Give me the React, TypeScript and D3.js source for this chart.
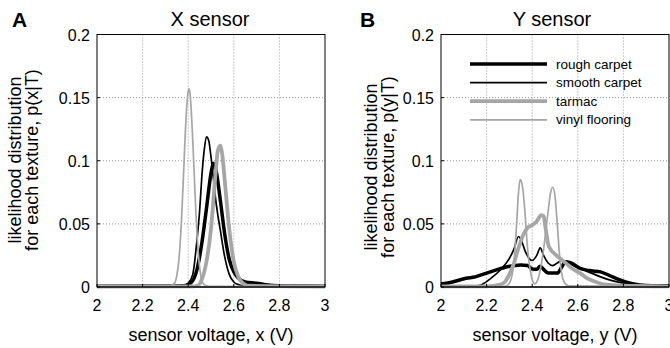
import React from 'react';
import * as d3 from 'd3';

type Pt = [number, number];

const xTicks = [2, 2.2, 2.4, 2.6, 2.8, 3];
const xTickLabels = ['2', '2.2', '2.4', '2.6', '2.8', '3'];
const yTicks = [0, 0.05, 0.1, 0.15, 0.2];
const yTickLabels = ['0', '0.05', '0.1', '0.15', '0.2'];
const textures = ['rough carpet', 'smooth carpet', 'tarmac', 'vinyl flooring'];

// X sensor, likelihood p(x|T)
const xRoughCarpet: Pt[] = [
  [2.0, 0.0005], [2.3, 0.0008], [2.38, 0.001], [2.4, 0.002], [2.42, 0.005], [2.44, 0.015],
  [2.46, 0.035], [2.48, 0.062], [2.5, 0.09], [2.51, 0.098], [2.52, 0.094], [2.54, 0.07],
  [2.56, 0.042], [2.58, 0.022], [2.6, 0.012], [2.62, 0.007], [2.65, 0.004], [2.7, 0.003],
  [2.75, 0.0015], [2.8, 0.001], [2.9, 0.0008], [3.0, 0.0005],
];
const xSmoothCarpet: Pt[] = [
  [2.0, 0.0004], [2.36, 0.0005], [2.38, 0.001], [2.4, 0.003], [2.42, 0.01], [2.44, 0.04],
  [2.45, 0.06], [2.46, 0.088], [2.47, 0.108], [2.48, 0.119], [2.49, 0.116], [2.5, 0.103],
  [2.51, 0.087], [2.52, 0.07], [2.53, 0.057], [2.54, 0.046], [2.56, 0.024], [2.58, 0.01],
  [2.6, 0.004], [2.62, 0.002], [2.65, 0.001], [3.0, 0.0004],
];
const xTarmac: Pt[] = [
  [2.0, 0.0004], [2.42, 0.0005], [2.44, 0.001], [2.46, 0.006], [2.48, 0.02], [2.5, 0.046],
  [2.52, 0.09], [2.53, 0.108], [2.54, 0.112], [2.55, 0.104], [2.56, 0.085], [2.58, 0.046],
  [2.6, 0.02], [2.62, 0.008], [2.64, 0.003], [2.66, 0.001], [3.0, 0.0004],
];
const xVinylFlooring: Pt[] = [
  [2.0, 0.0004], [2.3, 0.0005], [2.32, 0.001], [2.34, 0.003], [2.35, 0.009], [2.36, 0.023],
  [2.37, 0.051], [2.38, 0.091], [2.39, 0.132], [2.4, 0.155], [2.405, 0.157], [2.41, 0.149],
  [2.42, 0.116], [2.43, 0.074], [2.44, 0.038], [2.45, 0.016], [2.46, 0.005], [2.47, 0.002],
  [2.48, 0.001], [2.5, 0.0005], [3.0, 0.0004],
];

// Y sensor, likelihood p(y|T)
const yRoughCarpet: Pt[] = [
  [2.0, 0.0024], [2.05, 0.004], [2.11, 0.0069], [2.15, 0.008], [2.2, 0.011], [2.25, 0.014],
  [2.29, 0.016], [2.35, 0.0175], [2.38, 0.017], [2.4, 0.0143], [2.42, 0.014], [2.435, 0.0165],
  [2.45, 0.014], [2.47, 0.011], [2.51, 0.011], [2.53, 0.016], [2.545, 0.02], [2.57, 0.019],
  [2.61, 0.0148], [2.65, 0.013], [2.7, 0.012], [2.74, 0.009], [2.785, 0.0056], [2.83, 0.003],
  [2.87, 0.0016], [2.93, 0.001], [3.0, 0.001],
];
const ySmoothCarpet: Pt[] = [
  [2.0, 0.0005], [2.15, 0.0005], [2.18, 0.002], [2.22, 0.007], [2.26, 0.0135], [2.3, 0.0227],
  [2.32, 0.03], [2.34, 0.04], [2.35, 0.038], [2.37, 0.028], [2.4, 0.021], [2.42, 0.025],
  [2.435, 0.031], [2.45, 0.025], [2.47, 0.019], [2.49, 0.017], [2.51, 0.019], [2.53, 0.021],
  [2.55, 0.02], [2.58, 0.017], [2.62, 0.014], [2.66, 0.011], [2.7, 0.008], [2.75, 0.005],
  [2.8, 0.003], [2.85, 0.001], [2.9, 0.0005], [3.0, 0.0005],
];
const yTarmac: Pt[] = [
  [2.0, 0.0005], [2.2, 0.0005], [2.26, 0.002], [2.28, 0.004], [2.3, 0.01], [2.32, 0.019],
  [2.34, 0.031], [2.36, 0.041], [2.38, 0.047], [2.4, 0.049], [2.42, 0.052], [2.44, 0.057],
  [2.45, 0.056], [2.46, 0.045], [2.47, 0.034], [2.48, 0.03], [2.5, 0.026], [2.52, 0.023],
  [2.54, 0.02], [2.56, 0.017], [2.58, 0.014], [2.61, 0.011], [2.64, 0.007], [2.68, 0.004],
  [2.72, 0.002], [2.8, 0.001], [3.0, 0.0005],
];
const yVinylFlooring: Pt[] = [
  [2.0, 0.0004], [2.28, 0.0005], [2.3, 0.003], [2.32, 0.02], [2.33, 0.045], [2.34, 0.075],
  [2.347, 0.085], [2.355, 0.082], [2.36, 0.076], [2.37, 0.055], [2.38, 0.03], [2.39, 0.015],
  [2.4, 0.006], [2.412, 0.0025], [2.42, 0.004], [2.43, 0.009], [2.45, 0.03], [2.47, 0.06],
  [2.48, 0.074], [2.49, 0.079], [2.5, 0.072], [2.51, 0.05], [2.52, 0.025], [2.53, 0.01],
  [2.54, 0.004], [2.56, 0.001], [3.0, 0.0004],
];

const xSensorSeries = [xRoughCarpet, xSmoothCarpet, xTarmac, xVinylFlooring];
const ySensorSeries = [yRoughCarpet, ySmoothCarpet, yTarmac, yVinylFlooring];

const GRAY = '#a6a6a6';
const seriesStyle = [
  { color: '#000', width: 3.5 },
  { color: '#000', width: 1.7 },
  { color: GRAY, width: 3.8 },
  { color: GRAY, width: 1.7 },
];

const FONT = '"Liberation Sans", Arial, Helvetica, sans-serif';

type PanelProps = {
  left: number;
  right: number;
  top: number;
  bottom: number;
  letter: string;
  letterX: number;
  title: string;
  titleX: number;
  yLabel2: string;
  yLabelX: number;
  yLabelY: number;
  xLabel: string;
  series: Pt[][];
  legend?: boolean;
};

function Panel(p: PanelProps) {
  const x = d3.scaleLinear().domain([2, 3]).range([p.left, p.right]);
  const y = d3.scaleLinear().domain([0, 0.2]).range([p.bottom, p.top]);
  const line = d3
    .line<Pt>()
    .x((d) => x(d[0]))
    .y((d) => y(d[1]))
    .curve(d3.curveMonotoneX);
  const midX = (p.left + p.right) / 2;
  return (
    <g>
      <text x={p.letterX} y={27} fontSize={21} fontWeight="bold" fontFamily={FONT}>
        {p.letter}
      </text>
      <text x={p.titleX} y={26} fontSize={20} textAnchor="middle" fontFamily={FONT}>
        {p.title}
      </text>
      {/* grid */}
      {xTicks.slice(1, -1).map((t) => (
        <line key={'gx' + t} x1={x(t)} x2={x(t)} y1={p.top} y2={p.bottom} stroke="#999" strokeWidth={1} strokeDasharray="1,2" />
      ))}
      {yTicks.slice(1, -1).map((t) => (
        <line key={'gy' + t} x1={p.left} x2={p.right} y1={y(t)} y2={y(t)} stroke="#999" strokeWidth={1} strokeDasharray="1,2" />
      ))}
      {/* data */}
      {p.series.map((s, i) => (
        <path key={i} d={line(s) || ''} fill="none" stroke={seriesStyle[i].color} strokeWidth={seriesStyle[i].width} strokeLinejoin="round" />
      ))}
      {/* frame */}
      <rect x={p.left} y={p.top} width={p.right - p.left} height={p.bottom - p.top} fill="none" stroke="#000" strokeWidth={1} />
      <line x1={p.left} x2={p.right} y1={p.bottom} y2={p.bottom} stroke="#333" strokeWidth={2} />
      {/* ticks */}
      {xTicks.map((t, i) => (
        <g key={'xt' + t}>
          <line x1={x(t)} x2={x(t)} y1={p.bottom} y2={p.bottom - 3} stroke="#000" />
          <text x={x(t)} y={311} fontSize={16} textAnchor="middle" fontFamily={FONT}>
            {xTickLabels[i]}
          </text>
        </g>
      ))}
      {yTicks.map((t, i) => (
        <g key={'yt' + t}>
          <line x1={p.left} x2={p.left + 3} y1={y(t)} y2={y(t)} stroke="#000" />
          <text x={p.left - 7} y={y(t) + 6} fontSize={16} textAnchor="end" fontFamily={FONT}>
            {yTickLabels[i]}
          </text>
        </g>
      ))}
      <text x={midX} y={341} fontSize={18} textAnchor="middle" fontFamily={FONT}>
        {p.xLabel}
      </text>
      <g transform={`translate(${p.yLabelX},${p.yLabelY}) rotate(-90)`}>
        <text x={0} y={0} fontSize={18} textAnchor="middle" fontFamily={FONT}>
          likelihood distribution
        </text>
        <text x={0} y={16.5} fontSize={18} textAnchor="middle" fontFamily={FONT}>
          {p.yLabel2}
        </text>
      </g>
      {p.legend &&
        textures.map((name, i) => {
          const ly = 64 + i * 18.6;
          return (
            <g key={name}>
              <line x1={470} x2={547} y1={ly} y2={ly} stroke={seriesStyle[i].color} strokeWidth={seriesStyle[i].width} />
              <text x={556} y={ly + 4.5} fontSize={13.5} fontFamily={FONT}>
                {name}
              </text>
            </g>
          );
        })}
    </g>
  );
}

export default function App() {
  return (
    <svg width={670} height={348} style={{ position: 'absolute', left: 0, top: 0, background: '#fff' }}>
      <rect width={670} height={348} fill="#fff" />
      <Panel
        left={97}
        right={325}
        top={34.5}
        bottom={287}
        letter="A"
        letterX={12}
        title="X sensor"
        titleX={210}
        yLabel2="for each texture, p(x|T)"
        yLabelX={21}
        yLabelY={160}
        xLabel="sensor voltage, x (V)"
        series={xSensorSeries}
      />
      <Panel
        left={441}
        right={669}
        top={34.5}
        bottom={287}
        letter="B"
        letterX={360}
        title="Y sensor"
        titleX={552}
        yLabel2="for each texture, p(y|T)"
        yLabelX={377}
        yLabelY={167}
        xLabel="sensor voltage, y (V)"
        series={ySensorSeries}
        legend
      />
    </svg>
  );
}
